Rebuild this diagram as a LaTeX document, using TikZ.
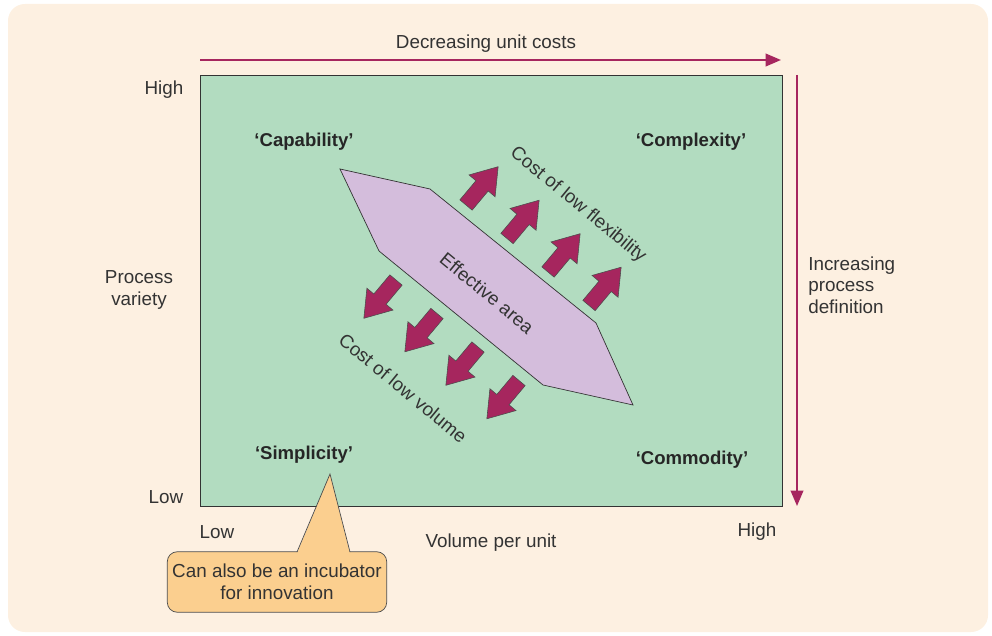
\documentclass[tikz,border=0pt]{standalone}
\usepackage{fontspec}
\setmainfont{Liberation Sans}
\usetikzlibrary{arrows.meta,calc}
\definecolor{bgcream}{HTML}{FDF0E1}
\definecolor{fieldgreen}{HTML}{B2DCC0}
\definecolor{arealilac}{HTML}{D4BDDC}
\definecolor{costred}{HTML}{A6265E}
\definecolor{noteorange}{HTML}{FBCF8F}
\definecolor{txtgray}{HTML}{333333}
\tikzset{
  lbl/.style={font=\fontsize{13.4}{15.4}\selectfont, text=txtgray, align=center, inner sep=0pt, yshift=-1.4pt},
  quad/.style={lbl, font=\fontsize{13.2}{15.4}\selectfont\bfseries, text=black!85},
  field/.style={fill=fieldgreen, draw=black!80, line width=0.5pt},
  effarea/.style={fill=arealilac, draw=black!80, line width=0.5pt},
  blockarr/.style={fill=costred, draw=black!70, line width=0.4pt},
  axisarr/.style={draw=costred, line width=1.4pt, -{Triangle[length=11pt,width=9pt]}},
  note/.style={lbl, fill=noteorange, draw=black!70, line width=0.5pt, rounded corners=7pt,
    minimum width=156pt, minimum height=43pt, yshift=1.4pt}
}

\begin{document}
\begin{tikzpicture}[x=0.025cm,y=-0.025cm]
  \useasboundingbox (0,0) rectangle (992,636);
  \fill[bgcream, rounded corners=12] (8,4) rectangle (988,632);

  \draw[field] (200,75) rectangle (782,506);
  \coordinate (topL) at (200,60);
  \coordinate (topR) at (781,60);
  \coordinate (sideT) at (797,75);
  \coordinate (sideB) at (797,506);
  \draw[axisarr] (topL) -- (topR);
  \draw[axisarr] (sideT) -- (sideB);

  \node[lbl] (costs) at (486,42) {Decreasing unit costs};
  \node[lbl, anchor=west, align=left] (definition) at (808,283) {Increasing\\process\\definition};
  \node[lbl] (yhigh) at (164,88) {High};
  \node[lbl] (ylow) at (166,495) {Low};
  \node[lbl] (variety) at (139,288) {Process\\variety};
  \node[lbl] (xlow) at (217,530) {Low};
  \node[lbl] (xhigh) at (757,530) {High};
  \node[lbl] (volume) at (491,541) {Volume per unit};

  \node[quad] (capability) at (304,140) {‘Capability’};
  \node[quad] (complexity) at (691,140) {‘Complexity’};
  \node[quad] (simplicity) at (304,453) {‘Simplicity’};
  \node[quad] (commodity) at (692,458) {‘Commodity’};

  \draw[effarea] (340,169) -- (430,189) -- (596,323) -- (633,405) -- (543,385) -- (379,251) -- cycle;
  \node[lbl, rotate=-39.5] (effective) at (487,291) {Effective area};

  \foreach \k in {0,...,3} {
    \draw[blockarr, shift={(466+41*\k,205+33.5*\k)}, rotate=50]
      (0,-8) -- (25,-8) -- (25,-17) -- (50,0) -- (25,17) -- (25,8) -- (0,8) -- cycle;
    \draw[blockarr, shift={(396+41*\k,280+33.5*\k)}, rotate=230]
      (0,-8) -- (25,-8) -- (25,-17) -- (50,0) -- (25,17) -- (25,8) -- (0,8) -- cycle;
  }
  \node[lbl, rotate=-39.5] (flex) at (578,203) {Cost of low flexibility};
  \node[lbl, rotate=-39.5] (lowvol) at (403,386) {Cost of low volume};

  \node[note] (incubator) at (277,582) {Can also be an incubator\\for innovation};
  \fill[noteorange] (297,553.5) -- (330,474) -- (350,553.5) -- cycle;
  \draw[black!70, line width=0.5pt] (297,552) -- (330,474) -- (350,552);
\end{tikzpicture}
\end{document}
